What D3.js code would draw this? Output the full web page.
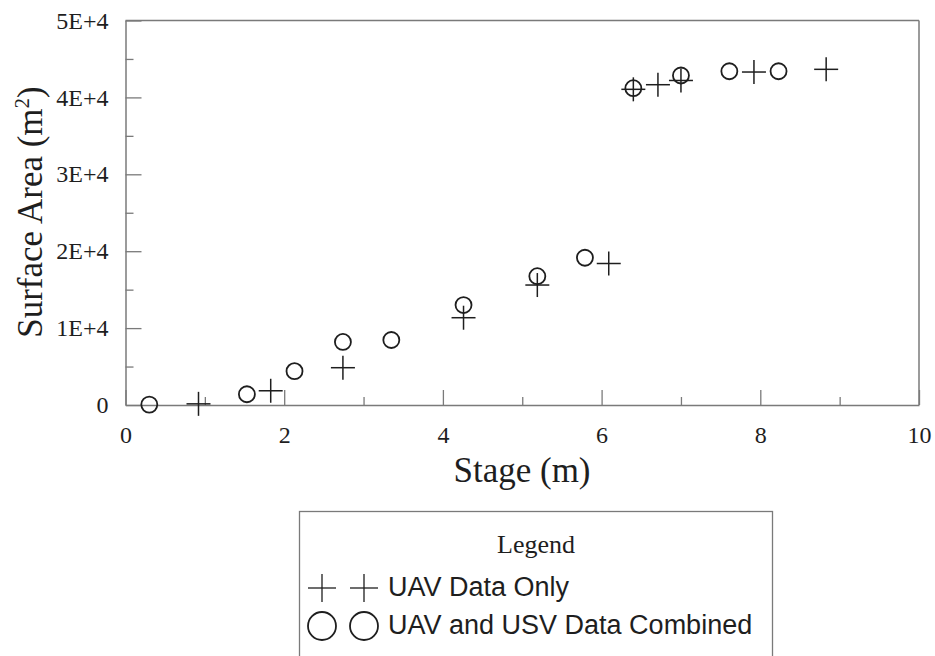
<!DOCTYPE html>
<html>
<head>
<meta charset="utf-8">
<script src="https://cdn.jsdelivr.net/npm/d3@7"></script>
<style>
  html, body { margin: 0; padding: 0; background: #fff; }
  svg { display: block; }
</style>
</head>
<body>
<svg id="chart" width="935" height="656"></svg>
<script>
// ---- Data ----
const uavStage = [0.92, 1.83, 2.74, 4.26, 5.19, 6.09, 6.40, 6.71, 7.00, 7.92, 8.83];
const uavArea  = [150, 1850, 4850, 11350, 15600, 18400, 41050, 41650, 42200, 43300, 43650];
const comboStage = [0.30, 1.53, 2.13, 2.74, 3.35, 4.26, 5.19, 5.79, 6.40, 7.00, 7.61, 8.23];
const comboArea  = [50, 1400, 4400, 8200, 8450, 13000, 16750, 19150, 41200, 42850, 43400, 43400];
const xMajorTicks = [0, 2, 4, 6, 8, 10];
const xMinorTicks = [1, 3, 5, 7, 9];
const yMajorTicks = [0, 10000, 20000, 30000, 40000, 50000];
const yMinorTicks = [5000, 15000, 25000, 35000, 45000];
const yTickLabels = ["0", "1E+4", "2E+4", "3E+4", "4E+4", "5E+4"];
const legendLabels = ["UAV Data Only", "UAV and USV Data Combined"];

// ---- Layout ----
const svg = d3.select("#chart");
const pLeft = 125.5, pRight = 919, pTop = 20.5, pBottom = 405;
const axisColor = "#7a7a7a", ink = "#1e1e1e";
const serif = "'Liberation Serif', 'Times New Roman', serif";
const sans = "'Liberation Sans', Arial, sans-serif";

const x = d3.scaleLinear().domain([0, 10]).range([pLeft, pRight]);
const y = d3.scaleLinear().domain([0, 50000]).range([pBottom, pTop]);

// frame (top & right)
svg.append("line").attr("x1", pLeft).attr("x2", pRight).attr("y1", pTop).attr("y2", pTop)
  .attr("stroke", axisColor).attr("stroke-width", 1.5);
svg.append("line").attr("x1", pRight).attr("x2", pRight).attr("y1", pTop).attr("y2", pBottom)
  .attr("stroke", axisColor).attr("stroke-width", 1.5);

// x axis major
const xAxis = svg.append("g").attr("transform", `translate(0,${pBottom})`)
  .call(d3.axisBottom(x).tickValues(xMajorTicks).tickSizeInner(-15).tickSizeOuter(0).tickPadding(21)
        .tickFormat(d3.format("d")));
xAxis.select(".domain").attr("stroke", axisColor).attr("stroke-width", 1.5);
xAxis.selectAll(".tick line").attr("stroke", axisColor).attr("stroke-width", 1.3);
xAxis.selectAll(".tick text").attr("font-family", serif).attr("font-size", 24).attr("fill", ink);
// x minor
const xMinor = svg.append("g").attr("transform", `translate(0,${pBottom})`)
  .call(d3.axisBottom(x).tickValues(xMinorTicks).tickSizeInner(-8).tickSizeOuter(0).tickFormat(""));
xMinor.select(".domain").remove();
xMinor.selectAll(".tick line").attr("stroke", axisColor).attr("stroke-width", 1.3);

// y axis major
const yAxis = svg.append("g").attr("transform", `translate(${pLeft},0)`)
  .call(d3.axisLeft(y).tickValues(yMajorTicks).tickSizeInner(-16).tickSizeOuter(0).tickPadding(17)
        .tickFormat((d, i) => yTickLabels[i]));
yAxis.select(".domain").attr("stroke", axisColor).attr("stroke-width", 1.5);
yAxis.selectAll(".tick line").attr("stroke", axisColor).attr("stroke-width", 1.3);
yAxis.selectAll(".tick text").attr("font-family", serif).attr("font-size", 24).attr("fill", ink);
// y minor
const yMinor = svg.append("g").attr("transform", `translate(${pLeft},0)`)
  .call(d3.axisLeft(y).tickValues(yMinorTicks).tickSizeInner(-8).tickSizeOuter(0).tickFormat(""));
yMinor.select(".domain").remove();
yMinor.selectAll(".tick line").attr("stroke", axisColor).attr("stroke-width", 1.3);

// axis titles
svg.append("text").attr("x", 522).attr("y", 482).attr("text-anchor", "middle")
  .attr("font-family", serif).attr("font-size", 35).attr("fill", ink).text("Stage (m)");
const yt = svg.append("text").attr("transform", "translate(42,212) rotate(-90)")
  .attr("text-anchor", "middle").attr("font-family", serif).attr("font-size", 35).attr("fill", ink);
yt.append("tspan").text("Surface Area (m");
yt.append("tspan").attr("font-size", 21).attr("dy", -13).text("2");
yt.append("tspan").attr("dy", 13).text(")");

// marker helpers
function plus(g, cx, cy, h) {
  g.append("line").attr("x1", cx - h).attr("x2", cx + h).attr("y1", cy).attr("y2", cy);
  g.append("line").attr("x1", cx).attr("x2", cx).attr("y1", cy - h).attr("y2", cy + h);
}

// data: UAV only (plus)
const gPlus = svg.append("g").attr("stroke", ink).attr("stroke-width", 1.5);
gPlus.selectAll("g").data(d3.zip(uavStage, uavArea)).join("g")
  .each(function(d) { plus(d3.select(this), x(d[0]), y(d[1]), 12); });

// data: combined (circle)
svg.append("g").selectAll("circle").data(d3.zip(comboStage, comboArea)).join("circle")
  .attr("cx", d => x(d[0])).attr("cy", d => y(d[1])).attr("r", 8)
  .attr("fill", "none").attr("stroke", ink).attr("stroke-width", 1.8);

// legend
const lg = svg.append("g");
lg.append("rect").attr("x", 299.5).attr("y", 511.5).attr("width", 473).attr("height", 200)
  .attr("fill", "#fff").attr("stroke", axisColor).attr("stroke-width", 1.3);
lg.append("text").attr("x", 536).attr("y", 553).attr("text-anchor", "middle")
  .attr("font-family", serif).attr("font-size", 26).attr("fill", ink).text("Legend");
const lp = lg.append("g").attr("stroke", ink).attr("stroke-width", 1.3);
[322, 364].forEach(cx => plus(lp, cx, 588, 14));
[322, 364].forEach(cx => lg.append("circle").attr("cx", cx).attr("cy", 626).attr("r", 14)
  .attr("fill", "none").attr("stroke", ink).attr("stroke-width", 1.8));
lg.append("text").attr("x", 388).attr("y", 596).attr("font-family", sans).attr("font-size", 27)
  .attr("fill", ink).text(legendLabels[0]);
lg.append("text").attr("x", 388).attr("y", 634).attr("font-family", sans).attr("font-size", 27)
  .attr("fill", ink).text(legendLabels[1]);
</script>
</body>
</html>
